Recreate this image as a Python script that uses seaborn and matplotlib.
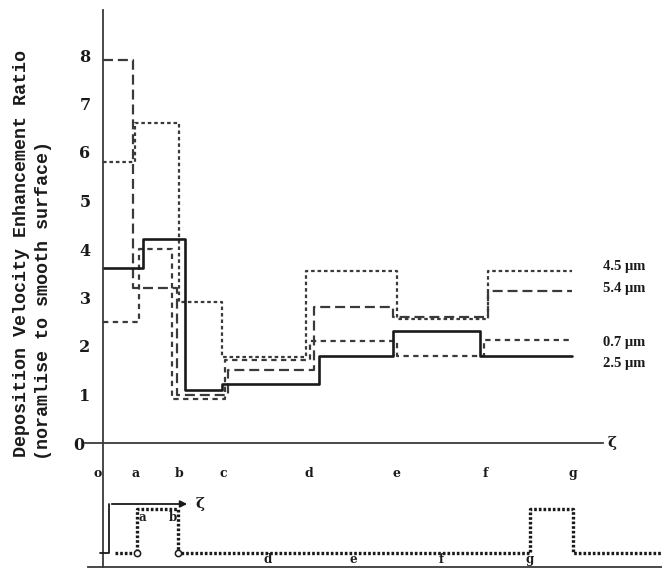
import numpy as np
import pandas as pd
import matplotlib
matplotlib.use("Agg")
import matplotlib.pyplot as plt
import matplotlib.transforms as mtransforms
import seaborn as sns

# ---------------- data ----------------
# position along the surface (zeta), step edges for each series
x_25 = [0, 0.91, 1.86, 2.70, 4.91, 6.59, 8.57, 10.66]
y_25 = [3.6, 4.2, 1.1, 1.22, 1.8, 2.3, 1.8]

x_54 = [0, 0.68, 1.68, 2.84, 4.80, 6.59, 8.75, 10.66]
y_54 = [7.9, 3.2, 1.0, 1.5, 2.8, 2.6, 3.13]

x_45 = [0, 0.73, 1.73, 2.70, 4.61, 6.68, 8.75, 10.66]
y_45 = [5.8, 6.6, 2.9, 1.78, 3.55, 2.55, 3.55]

x_07 = [0, 0.82, 1.57, 2.77, 4.70, 6.68, 8.66, 10.66]
y_07 = [2.5, 4.0, 0.9, 1.72, 2.1, 1.8, 2.12]

series_labels = ["4.5 \u03bcm", "5.4 \u03bcm", "0.7 \u03bcm", "2.5 \u03bcm"]
label_y = [3.63, 3.18, 2.08, 1.63]

yticks = [0, 1, 2, 3, 4, 5, 6, 7, 8]
xtick_pos = [0, 0.75, 1.73, 2.73, 4.68, 6.66, 8.68, 10.68]
xtick_labels = ["o", "a", "b", "c", "d", "e", "f", "g"]

# surface geometry (lower panel)
geo_x = [0.27, 0.77, 1.70, 9.70, 10.68, 12.70]
geo_h = [0, 1, 0, 1, 0]
geo_tick_pos = [1.73, 3.75, 5.70, 7.68, 9.70]
geo_tick_labels = ["", "d", "e", "f", "g"]

# ---------------- figure ----------------
W, H = 662, 573
fig = plt.figure(figsize=(W / 100, H / 100), dpi=100)
sns.set_style("white")
plt.rcParams['font.family'] = ['DejaVu Serif', 'DejaVu Sans']

def fx(px):
    return px / W

def fy(px):
    return 1 - px / H

XU, YU = 44.0, 48.5
X0, Y0 = 103, 443
left_px, right_px, top_px, bot_px = 80, 662, 5, 567

ax = fig.add_axes([fx(left_px), fy(bot_px), fx(right_px - left_px), (bot_px - top_px) / H])
ax.set_xlim((left_px - X0) / XU, (right_px - X0) / XU)
ax.set_ylim(-(bot_px - Y0) / YU, (Y0 - top_px) / YU)
ax.patch.set_alpha(0)

ink = "#1a1a1a"
grey = "#3a3a3a"

def steps(xe, ye):
    return pd.DataFrame({"x": xe, "y": list(ye) + [ye[-1]]})

sns.lineplot(data=steps(x_45, y_45), x="x", y="y", ax=ax, drawstyle="steps-post",
             color=grey, lw=1.6, linestyle=(0, (1.6, 1.3)), estimator=None)
sns.lineplot(data=steps(x_54, y_54), x="x", y="y", ax=ax, drawstyle="steps-post",
             color=grey, lw=1.6, linestyle=(0, (4.5, 2.2)), estimator=None)
sns.lineplot(data=steps(x_07, y_07), x="x", y="y", ax=ax, drawstyle="steps-post",
             color=grey, lw=1.6, linestyle=(0, (2.4, 2.0)), estimator=None)
sns.lineplot(data=steps(x_25, y_25), x="x", y="y", ax=ax, drawstyle="steps-post",
             color=ink, lw=1.9, linestyle="-", estimator=None)

for s in ["top", "right"]:
    ax.spines[s].set_visible(False)
ax.spines["left"].set_position(("data", 0))
ax.spines["bottom"].set_position(("data", 0))
ax.spines["left"].set_bounds(-(bot_px - Y0) / YU, (Y0 - 10) / YU)
ax.spines["bottom"].set_bounds((85 - X0) / XU, (603 - X0) / XU)
for s in ["left", "bottom"]:
    ax.spines[s].set_color(grey)
    ax.spines[s].set_linewidth(1.3)

ax.set_yticks(yticks)
ax.set_yticklabels([str(v) for v in yticks], fontweight="bold", fontsize=11.5, color=ink)
ax.set_xticks(xtick_pos)
ax.set_xticklabels(xtick_labels, fontweight="bold", fontsize=9, color=ink)
ax.tick_params(axis="y", direction="inout", length=10, width=1.2, color=grey, pad=4)
ax.tick_params(axis="x", direction="inout", length=12, width=1.2, color=grey, pad=11)
ax.set_xlabel("")
ax.set_ylabel("")

# nudge the "o" and "0" labels left, as in the original drawing
shift = mtransforms.ScaledTranslation(-5 / 100, 0, fig.dpi_scale_trans)
ax.get_xticklabels()[0].set_transform(ax.get_xticklabels()[0].get_transform() + shift)
shift0 = mtransforms.ScaledTranslation(-6 / 100, 0, fig.dpi_scale_trans)
ax.get_yticklabels()[0].set_transform(ax.get_yticklabels()[0].get_transform() + shift0)

ax.text((607 - X0) / XU, 0, "\u03b6", fontsize=11, fontweight="bold", va="center", ha="left", color=ink)

for lab, ly in zip(series_labels, label_y):
    ax.text((603 - X0) / XU, ly, lab, fontsize=10.5, fontweight="bold",
            family=["Liberation Serif", "DejaVu Serif"], va="center", ha="left", color=ink)

# y label (two lines)
fig.text(fx(22), fy(457), "Deposition Velocity Enhancement Ratio", rotation=90,
         ha="center", va="bottom", fontsize=13.2, fontweight="bold",
         family=["Liberation Mono", "DejaVu Sans Mono"], color=ink)
fig.text(fx(44), fy(460), "(noramlise to smooth surface)", rotation=90,
         ha="center", va="bottom", fontsize=13.2, fontweight="bold",
         family=["Liberation Mono", "DejaVu Sans Mono"], color=ink)

# ---------------- lower panel: surface geometry ----------------
g_top, g_bot = 488, 573
GY0 = 553
ax2 = fig.add_axes([fx(left_px), fy(g_bot), fx(right_px - left_px), (g_bot - g_top) / H])
ax2.set_xlim((left_px - X0) / XU, (right_px - X0) / XU)
ax2.set_ylim(-(g_bot - GY0) / XU, (GY0 - g_top) / XU)
ax2.patch.set_alpha(0)
for s in ["top", "right", "left"]:
    ax2.spines[s].set_visible(False)
base_y = -(567 - GY0) / XU
ax2.spines["bottom"].set_position(("data", base_y))
ax2.spines["bottom"].set_bounds((88 - X0) / XU, (662 - X0) / XU)
ax2.spines["bottom"].set_color(grey)
ax2.spines["bottom"].set_linewidth(1.3)
ax2.set_yticks([])
ax2.set_xticks(geo_tick_pos)
ax2.set_xticklabels([])
ax2.tick_params(axis="x", direction="inout", length=10, width=1.2, color=grey)

sns.lineplot(data=steps(geo_x, geo_h), x="x", y="y", ax=ax2, drawstyle="steps-post",
             color=ink, lw=2.4, linestyle=(0, (0.8, 0.6)), estimator=None)
ax2.set_xlabel("")
ax2.set_ylabel("")
ax2.plot([geo_x[1], geo_x[2]], [0, 0], "o", ms=4.5, mfc="white", mec=ink, mew=1.1)

for tp, tl in zip(geo_tick_pos, geo_tick_labels):
    if tl:
        ax2.text(tp, base_y + 0.02, tl, fontsize=8.5, fontweight="bold", ha="center",
                 va="bottom", color=ink)
ax2.text(geo_x[1] + 0.12, 0.80, "a", fontsize=8.5, fontweight="bold", ha="center", va="center", color=ink)
ax2.text(geo_x[2] - 0.12, 0.80, "b", fontsize=8.5, fontweight="bold", ha="center", va="center", color=ink)

# zeta arrow
ax2.plot([(100 - X0) / XU, (109 - X0) / XU, (109 - X0) / XU], [0, 0, (GY0 - 504) / XU],
         color=ink, lw=1.3)
ax2.annotate("", xy=((190 - X0) / XU, (GY0 - 504) / XU), xytext=((109 - X0) / XU, (GY0 - 504) / XU),
             arrowprops=dict(arrowstyle="-|>", color=ink, lw=1.3, mutation_scale=10))
ax2.text((196 - X0) / XU, (GY0 - 504) / XU, "\u03b6", fontsize=11, fontweight="bold",
         va="center", ha="left", color=ink)

fig.savefig("out.png", dpi=100, facecolor="white")
